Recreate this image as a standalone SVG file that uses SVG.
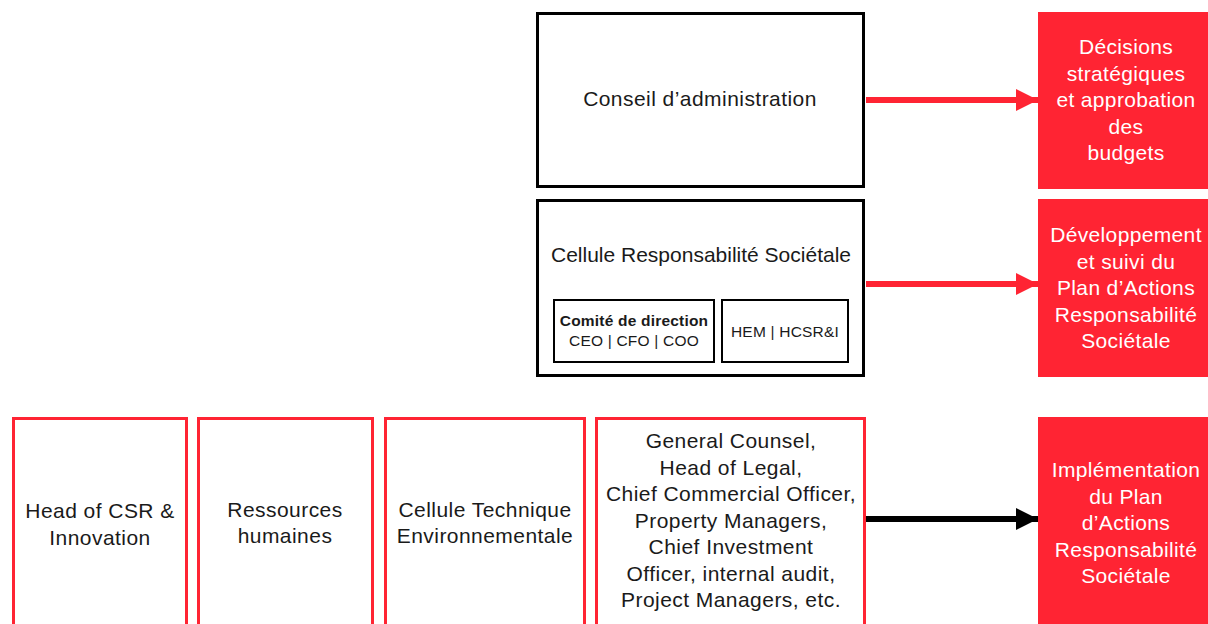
<svg xmlns="http://www.w3.org/2000/svg" width="1208" height="624" viewBox="0 0 1208 624">
<defs>
<style>
.t{font-family:"Liberation Sans",Arial,sans-serif;font-size:21px;letter-spacing:0.45px;fill:#1a1a1a;text-anchor:middle}
.w{font-family:"Liberation Sans",Arial,sans-serif;font-size:21px;letter-spacing:0.35px;fill:#ffffff;text-anchor:middle}
.s{font-family:"Liberation Sans",Arial,sans-serif;font-size:15.5px;letter-spacing:0.2px;fill:#1a1a1a;text-anchor:middle}
.b{font-weight:bold}
.blk{fill:#fff;stroke:#000;stroke-width:3}
.sub{fill:#fff;stroke:#000;stroke-width:2}
.red{fill:#ff2433}
.rb{fill:#fff;stroke:#ff2433;stroke-width:3}
</style>
<marker id="ar" viewBox="0 0 22 22" markerWidth="22" markerHeight="22" refX="22" refY="11" markerUnits="userSpaceOnUse" orient="auto"><path d="M0,0 L22,11 L0,22 Z" fill="#ff2433"/></marker>
<marker id="ab" viewBox="0 0 22 22" markerWidth="22" markerHeight="22" refX="22" refY="11" markerUnits="userSpaceOnUse" orient="auto"><path d="M0,0 L22,11 L0,22 Z" fill="#000"/></marker>
</defs>
<rect width="1208" height="624" fill="#fff"/>
<g id="connectors">
<line x1="866" y1="100" x2="1038" y2="100" stroke="#ff2433" stroke-width="6" marker-end="url(#ar)"/>
<line x1="866" y1="284" x2="1038" y2="284" stroke="#ff2433" stroke-width="6" marker-end="url(#ar)"/>
<line x1="866" y1="519" x2="1038" y2="519" stroke="#000" stroke-width="6" marker-end="url(#ab)"/>
</g>
<g id="conseil">
<rect class="blk" x="537.5" y="13.5" width="326" height="173"/>
<text class="t" x="700" y="106">Conseil d’administration</text>
</g>
<g id="cellule-rs">
<rect class="blk" x="537.5" y="200.5" width="326" height="175"/>
<text class="t" x="701" y="262" style="letter-spacing:0px">Cellule Responsabilité Sociétale</text>
<g id="comite">
<rect class="sub" x="554" y="300" width="160" height="62"/>
<text class="s b" x="634" y="326">Comité de direction</text>
<text class="s" x="634" y="346">CEO | CFO | COO</text>
</g>
<g id="hem">
<rect class="sub" x="722" y="300" width="126" height="62"/>
<text class="s" x="785" y="337">HEM | HCSR&amp;I</text>
</g>
</g>
<g id="decisions">
<rect class="red" x="1038" y="12" width="170" height="177"/>
<text class="w" x="1126" y="54">Décisions</text>
<text class="w" x="1126" y="80.5">stratégiques</text>
<text class="w" x="1126" y="107">et approbation</text>
<text class="w" x="1126" y="133.5">des</text>
<text class="w" x="1126" y="160">budgets</text>
</g>
<g id="developpement">
<rect class="red" x="1038" y="199" width="170" height="178"/>
<text class="w" x="1126" y="242">Développement</text>
<text class="w" x="1126" y="268.5">et suivi du</text>
<text class="w" x="1126" y="295">Plan d’Actions</text>
<text class="w" x="1126" y="321.5">Responsabilité</text>
<text class="w" x="1126" y="348">Sociétale</text>
</g>
<g id="implementation">
<rect class="red" x="1038" y="417" width="170" height="207"/>
<text class="w" x="1126" y="477">Implémentation</text>
<text class="w" x="1126" y="503.5">du Plan</text>
<text class="w" x="1126" y="530">d’Actions</text>
<text class="w" x="1126" y="556.5">Responsabilité</text>
<text class="w" x="1126" y="583">Sociétale</text>
</g>
<g id="head-csr">
<rect class="rb" x="13.5" y="418.5" width="173" height="215"/>
<text class="t" x="100" y="518">Head of CSR &amp;</text>
<text class="t" x="100" y="545">Innovation</text>
</g>
<g id="rh">
<rect class="rb" x="198.5" y="418.5" width="174" height="215"/>
<text class="t" x="285" y="517">Ressources</text>
<text class="t" x="285" y="543">humaines</text>
</g>
<g id="cte">
<rect class="rb" x="385.5" y="418.5" width="199" height="215"/>
<text class="t" x="485" y="517">Cellule Technique</text>
<text class="t" x="485" y="543">Environnementale</text>
</g>
<g id="others">
<rect class="rb" x="596.5" y="418.5" width="268" height="215"/>
<text class="t" x="731" y="448">General Counsel,</text>
<text class="t" x="731" y="474.5">Head of Legal,</text>
<text class="t" x="731" y="501">Chief Commercial Officer,</text>
<text class="t" x="731" y="527.5">Property Managers,</text>
<text class="t" x="731" y="554">Chief Investment</text>
<text class="t" x="731" y="580.5">Officer, internal audit,</text>
<text class="t" x="731" y="607">Project Managers, etc.</text>
</g>
</svg>
